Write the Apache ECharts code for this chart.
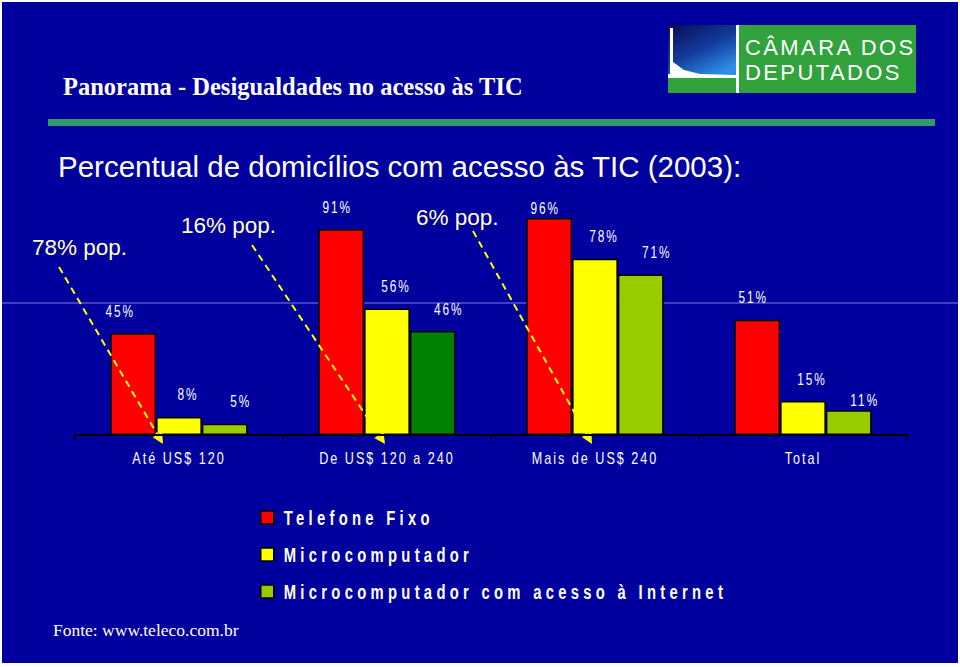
<!DOCTYPE html>
<html><head><meta charset="utf-8">
<script src="https://cdn.jsdelivr.net/npm/echarts@6/dist/echarts.min.js"></script>
<style>
html,body{margin:0;padding:0;background:#fff;}
#c{width:960px;height:667px;}
#c text[style*="NarrowX"]{letter-spacing:2.7px;}
#c text[style*="bold"][style*="NarrowX"]{letter-spacing:5.8px;}
#c text[style*="LogoX"]{letter-spacing:2.4px;}
</style></head>
<body><div id="c"></div>
<script>
// ---- data ----
const categories = ['Até US$ 120', 'De US$ 120 a 240', 'Mais de US$ 240', 'Total'];
const seriesNames = ['Telefone Fixo', 'Microcomputador', 'Microcomputador com acesso à Internet'];
const telefoneFixo = [45, 91, 96, 51];
const microcomputador = [8, 56, 78, 15];
const microInternet = [5, 46, 71, 11];
const popLabels = ['78% pop.', '16% pop.', '6% pop.'];
const titleText = 'Panorama - Desigualdades no acesso às TIC';
const subtitleText = 'Percentual de domicílios com acesso às TIC (2003):';
const sourceText = 'Fonte: www.teleco.com.br';
const logoLines = ['CÂMARA DOS', 'DEPUTADOS'];

// ---- style ----
const NARROW = '"Liberation Sans", NarrowX, sans-serif';
const SANS = '"Liberation Sans", Arial, sans-serif';
const SERIF = '"Liberation Serif", "Times New Roman", serif';
const LOGO = '"Liberation Sans", LogoX, sans-serif';
const CONDENSE = 0.74;
const BG = '#00009E';
const colors = ['#FF0000', '#FFFF00', '#99CC00'];
const labelOffsets = [-4, 9, 16];
// individual label placement tweaks: [series, index] -> label style
const labelTweaks = {'0-0': {offset: [-13, 0]}, '0-2': {distance: 2}, '2-3': {distance: 2}};

// annotation layout (pixel)
const popPos = [[32, 247], [181, 225], [416, 217]];
const arrowLines = [[[59, 267], [163, 444]], [[252, 245], [385, 444]], [[473, 231], [592, 444]]];

const chart = echarts.init(document.getElementById('c'), null, {renderer: 'svg'});

const graphics = [];
graphics.push({type: 'rect', shape: {x: 2, y: 2, width: 956, height: 661}, style: {fill: BG}, z: -10});
graphics.push({type: 'rect', shape: {x: 48, y: 119, width: 887, height: 7}, style: {fill: '#339966'}, z: 1});
graphics.push({type: 'line', shape: {x1: 2, y1: 303, x2: 958, y2: 303}, style: {stroke: '#7C7CF0', lineWidth: 1}, z: 1});
// logo
graphics.push({type: 'rect', shape: {x: 668, y: 25, width: 248, height: 68}, style: {fill: '#31A23C'}, z: 1});
graphics.push({type: 'rect', shape: {x: 668, y: 25, width: 68, height: 53}, style: {fill: new echarts.graphic.LinearGradient(0, 0, 0.6, 1, [{offset: 0, color: '#0A0A55'}, {offset: 0.55, color: '#123C9C'}, {offset: 1, color: '#2E8DE6'}])}, z: 2});
graphics.push({type: 'rect', shape: {x: 670, y: 28, width: 3, height: 48}, style: {fill: '#FFFFFF'}, z: 3});
graphics.push({type: 'polygon', shape: {points: [[673, 62], [684, 70], [700, 74], [736, 75], [736, 78], [668, 78], [668, 74], [673, 74]]}, style: {fill: '#FFFFFF'}, z: 3});
graphics.push({type: 'rect', shape: {x: 736, y: 25, width: 3, height: 68}, style: {fill: '#FFFFFF'}, z: 3});
logoLines.forEach((t, i) => {
  graphics.push({type: 'text', x: 745, y: 47 + i * 25.5, style: {text: t, fill: '#FFFFFF', font: '22px ' + LOGO, lineHeight: 22, textVerticalAlign: 'middle'}, z: 4});
});
// population labels
popLabels.forEach((t, i) => {
  graphics.push({type: 'text', x: popPos[i][0], y: popPos[i][1], style: {text: t, fill: '#FFFFCC', font: '22.5px ' + SANS, textVerticalAlign: 'middle'}, z: 4});
});
// dashed arrows
arrowLines.forEach(([s, e]) => {
  const dx = e[0] - s[0], dy = e[1] - s[1];
  const L = Math.hypot(dx, dy), ux = dx / L, uy = dy / L;
  const px = -uy, py = ux;
  const hl = 11, hw = 5.5;
  const bx = e[0] - ux * hl, by = e[1] - uy * hl;
  graphics.push({type: 'line', shape: {x1: s[0], y1: s[1], x2: bx, y2: by}, style: {stroke: '#FFFF00', lineWidth: 2, lineDash: [7, 5]}, z: 5});
  graphics.push({type: 'polygon', shape: {points: [[e[0], e[1]], [bx + px * hw, by + py * hw], [bx - px * hw, by - py * hw]]}, style: {fill: '#FFFF00'}, z: 5});
});

const rawSeries = [telefoneFixo, microcomputador, microInternet];
const seriesData = rawSeries.map((arr, k) => arr.map((v, i) => {
  const item = {value: v};
  if (k === 2 && i === 1) item.itemStyle = {color: '#008000'};
  const tw = labelTweaks[k + '-' + i];
  if (tw) item.label = tw;
  return item;
}));

const option = {
  backgroundColor: '#FFFFFF',
  animation: false,
  title: [
    {text: titleText, left: 63, top: 74, padding: 0, textStyle: {color: '#FFFFFF', fontFamily: SERIF, fontWeight: 'bold', fontSize: 24.5}},
    {text: subtitleText, left: 58, top: 151, padding: 0, textStyle: {color: '#FFFFFF', fontFamily: SANS, fontWeight: 'normal', fontSize: 29.5}},
    {text: sourceText, left: 53, top: 621, padding: 0, textStyle: {color: '#FFFFFF', fontFamily: SERIF, fontWeight: 'normal', fontSize: 17.5}}
  ],
  legend: {
    data: seriesNames,
    orient: 'vertical',
    left: 260,
    top: 507,
    padding: 0,
    itemWidth: 13,
    itemHeight: 13,
    itemGap: 16,
    icon: 'rect',
    itemStyle: {borderColor: '#000', borderWidth: 1.5},
    textStyle: {color: '#FFFFFF', fontSize: 20, fontWeight: 'bold', fontFamily: NARROW, lineHeight: 21, padding: [0, 0, 0, 5]},
    selectedMode: false
  },
  grid: {left: 75, right: 53, top: 209, bottom: 232, containLabel: false},
  xAxis: {
    type: 'category',
    data: categories,
    z: 10,
    axisLine: {lineStyle: {color: '#000000', width: 2}},
    axisTick: {show: true, length: 5, lineStyle: {color: '#000000', width: 1.5}},
    axisLabel: {color: '#FFFFFF', fontSize: 17, fontFamily: NARROW, margin: 15},
    splitLine: {show: false}
  },
  yAxis: {type: 'value', min: 0, max: 100, show: false, splitLine: {show: false}},
  series: seriesNames.map((name, k) => ({
    name: name,
    type: 'bar',
    data: seriesData[k],
    barGap: '0%',
    barCategoryGap: '34%',
    itemStyle: {color: colors[k], borderColor: '#000000', borderWidth: 1.5},
    label: {
      show: true, position: 'top', distance: 14, offset: [labelOffsets[k], 0],
      color: '#FFFFFF', fontSize: 16, fontFamily: NARROW, formatter: '{c}%'
    }
  })),
  graphic: {elements: graphics}
};

// condensed look for the chart's narrow texts (Arial Narrow style)
function condense() {
  document.querySelectorAll('#c svg text').forEach(t => {
    const st = t.getAttribute('style') || '';
    if (st.indexOf('NarrowX') < 0) return;
    t.removeAttribute('textLength');
    const len = t.getComputedTextLength();
    if (len > 0) {
      t.setAttribute('textLength', (len * CONDENSE).toFixed(2));
      t.setAttribute('lengthAdjust', 'spacingAndGlyphs');
    }
  });
}
chart.on('finished', condense);
chart.setOption(option);
condense();
setTimeout(condense, 0);
</script>
</body></html>
